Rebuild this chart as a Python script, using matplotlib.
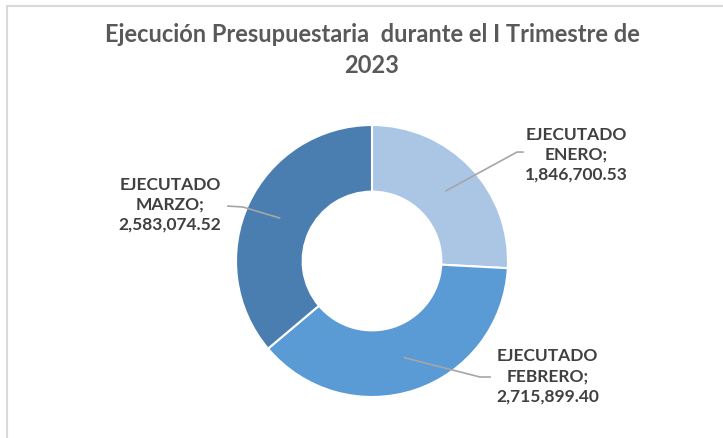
import matplotlib.pyplot as plt
import matplotlib.patches as mpatches
import numpy as np

# data
meses = ["EJECUTADO\nENERO;", "EJECUTADO\nFEBRERO;", "EJECUTADO\nMARZO;"]
montos = [1846700.53, 2715899.40, 2583074.52]
colores = ["#abc5e5", "#5a9ad5", "#4a7eb0"]
titulo = "Ejecución Presupuestaria  durante el I Trimestre de\n2023"

W, H = 723, 439
cx, cy, R = 372, 262, 136  # donut centre / radius in pixels

fig = plt.figure(figsize=(W / 100, H / 100), dpi=100)
ax = fig.add_axes([0, 0, 1, 1])

wedges, _ = ax.pie(montos, colors=colores, startangle=90, counterclock=False,
                   radius=1, wedgeprops=dict(width=0.49, edgecolor="white", linewidth=1.5))
ax.set_xlim(-cx / R, (W - cx) / R)
ax.set_ylim(-(H - cy) / R, cy / R)
ax.set_aspect("auto")
ax.axis("off")

# leader lines: elbow / end / label centre (data units)
elbows = [(1.066, 0.801), (0.794, -0.853), (-0.949, 0.397)]
ends = [(1.11, 0.801), (0.868, -0.853), (-1.059, 0.404)]
labels_xy = [(1.50, 0.79), (1.29, -0.84), (-1.485, 0.42)]

for w, val, mes, el, en, lxy in zip(wedges, montos, meses, elbows, ends, labels_xy):
    ang = np.deg2rad((w.theta1 + w.theta2) / 2)
    p0 = (0.75 * np.cos(ang), 0.75 * np.sin(ang))
    ax.plot([p0[0], el[0], en[0]], [p0[1], el[1], en[1]], color="#a6a6a6", lw=1.2)
    ax.text(lxy[0], lxy[1], f"{mes}\n{val:,.2f}", ha="center", va="center",
            fontsize=12.5, color="#404040", family="Lato", fontweight="bold",
            linespacing=1.3)

fig.text(cx / W, 1 - 50 / H, titulo, ha="center", va="center", fontsize=17,
         color="#595959", family="Lato", fontweight="bold", linespacing=1.4)

# chart border
fig.patches.append(mpatches.Rectangle((7 / W, -0.05), 1.05, 1 - 7 / H + 0.05,
                                      transform=fig.transFigure, fill=False,
                                      edgecolor="#d9d9d9", lw=1.5))

fig.savefig("out.png", dpi=100)
